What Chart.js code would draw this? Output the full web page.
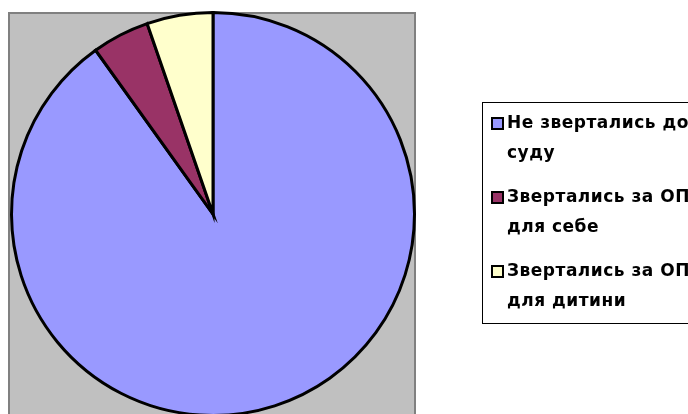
<!DOCTYPE html>
<html>
<head>
<meta charset="utf-8">
<script src="https://cdn.jsdelivr.net/npm/chart.js@4"></script>
<style>
  html, body { margin: 0; padding: 0; background: #fff; }
  #wrap { width: 688px; height: 414px; position: relative; overflow: hidden; }
</style>
</head>
<body>
<div id="wrap"><canvas id="chart" width="688" height="420"></canvas></div>
<script>
// дані діаграми
const categories = [
    ['Не звертались до', 'суду'],
    ['Звертались за ОП', 'для себе'],
    ['Звертались за ОП', 'для дитини']
];
const shares = [90.1, 4.6, 5.3];
const sliceColors = ['#9999FF', '#993366', '#FFFFCC'];

const LEGEND_FONT = "bold 17px 'DejaVu Sans', sans-serif";

/**
 * сірий фон області побудови
 */
const plotBackground = {
    id: 'plotBackground',
    beforeDraw(chart) {
        const ctx = chart.ctx;
        ctx.save();
        ctx.fillStyle = '#C0C0C0';
        ctx.fillRect(9, 13, 406, 420);
        ctx.strokeStyle = '#808080';
        ctx.lineWidth = 2;
        ctx.strokeRect(9, 13, 406, 420);
        ctx.restore();
    }
};

/**
 * легенда праворуч (багаторядкові підписи)
 */
const sideLegend = {
    id: 'sideLegend',
    afterDraw(chart) {
        const ctx = chart.ctx;
        const ds = chart.data.datasets[0];
        ctx.save();
        ctx.fillStyle = '#fff';
        ctx.fillRect(482.5, 102.5, 300, 221);
        ctx.strokeStyle = '#000';
        ctx.lineWidth = 1;
        ctx.strokeRect(482.5, 102.5, 300, 221);

        ctx.font = LEGEND_FONT;
        ctx.letterSpacing = '0.5px';
        ctx.textBaseline = 'middle';
        chart.data.labels.forEach((lines, i) => {
            const y = 124 + i * 74;
            ctx.fillStyle = ds.backgroundColor[i];
            ctx.fillRect(492, y - 6, 11, 11);
            ctx.strokeStyle = '#000';
            ctx.lineWidth = 2;
            ctx.strokeRect(492, y - 6, 11, 11);
            ctx.fillStyle = '#000';
            lines.forEach((line, k) => {
                ctx.fillText(line, 507, y + k * 30);
            });
        });
        ctx.restore();
    }
};

new Chart(document.getElementById('chart'), {
    type: 'pie',
    data: {
        labels: categories,
        datasets: [{
            data: shares,
            backgroundColor: sliceColors,
            borderColor: '#000',
            borderWidth: 3,
            borderJoinStyle: 'miter'
        }]
    },
    options: {
        responsive: false,
        animation: false,
        layout: { padding: { left: 10, right: 272, top: 11, bottom: 3 } },
        plugins: {
            legend: { display: false },
            tooltip: { enabled: false }
        }
    },
    plugins: [plotBackground, sideLegend]
});
</script>
</body>
</html>
